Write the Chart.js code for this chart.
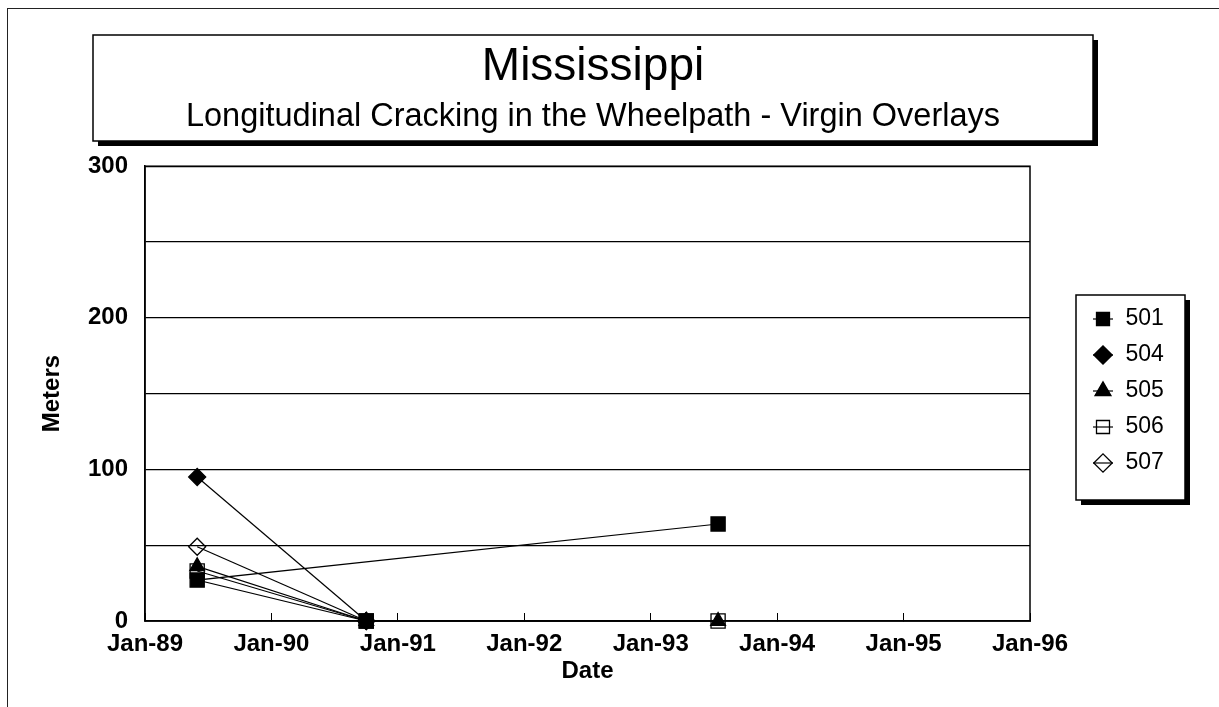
<!DOCTYPE html>
<html>
<head>
<meta charset="utf-8">
<script src="https://cdn.jsdelivr.net/npm/chart.js@4.4.1/dist/chart.umd.min.js"></script>
<style>
html,body{margin:0;padding:0;background:#fff;}
canvas{display:block;}
</style>
</head>
<body>
<canvas id="c" width="1219" height="707"></canvas>
<script>
// ---- chart text ----
const chartTitle = 'Mississippi';
const chartSubtitle = 'Longitudinal Cracking in the Wheelpath - Virgin Overlays';
const xAxisTitle = 'Date';
const yAxisTitle = 'Meters';
const xTickLabels = ['Jan-89','Jan-90','Jan-91','Jan-92','Jan-93','Jan-94','Jan-95','Jan-96'];
const yTickLabels = ['0','100','200','300'];

// ---- series (survey date, meters) in plotting order ----
const dates501 = ['1990-10-01','1989-05-30','1993-07-13'];
const meters501 = [0, 27, 64];
const dates504 = ['1989-05-30','1990-10-01'];
const meters504 = [95, 0];
const dates505 = ['1989-05-30','1990-10-01','1993-07-13'];
const meters505 = [36, 0, 0];
const dates506 = ['1989-05-30','1990-10-01','1993-07-13'];
const meters506 = [33, 0, 0];
const dates507 = ['1989-05-30','1990-10-01'];
const meters507 = [49, 0];

function toYear(s){
  const p = s.split('-').map(Number);
  return p[0] + (p[1]-1)/12 + (p[2]-1)/365;
}
function pts(dates, vals){ return dates.map((d,i)=>({x:toYear(d), y:vals[i]})); }

const FONT = "'Liberation Sans', Arial, Helvetica, sans-serif";
Chart.defaults.font.family = FONT;
Chart.defaults.color = '#000';

function ds(label, data, style, fill, radius){
  return {
    label, data, showLine:true, borderColor:'#000', borderWidth:1.2,
    pointStyle:style, pointRadius:radius, pointHoverRadius:radius,
    pointBackgroundColor: fill, pointBorderColor:'#000', pointBorderWidth:1.3,
    clip:false
  };
}

const decor = {
  id:'decor',
  afterInit(chart){
    const lg = chart.legend;
    const fit = lg.fit;
    lg.fit = function(){ fit.call(this); this.width = 156; };
  },
  afterLayout(chart){
    const lg = chart.legend;
    const dx = 1079 - lg.left;
    lg.left += dx; lg.right += dx;
    const h = lg.height;
    lg.top = 294.5; lg.bottom = lg.top + h;
  },
  beforeDraw(chart){
    const ctx = chart.ctx;
    ctx.save();
    ctx.fillStyle = '#fff';
    ctx.fillRect(0,0,chart.width,chart.height);
    // outer frame
    ctx.strokeStyle = '#222'; ctx.lineWidth = 1;
    ctx.strokeRect(7.5, 8.5, 1400, 900);
    // title box with shadow
    ctx.fillStyle = '#000';
    ctx.fillRect(98, 40, 1000, 106);
    ctx.fillStyle = '#fff';
    ctx.fillRect(93, 35, 1000, 106);
    ctx.strokeStyle = '#000'; ctx.lineWidth = 1.5;
    ctx.strokeRect(93, 35, 1000, 106);
    // legend box with shadow
    ctx.fillStyle = '#000';
    ctx.fillRect(1081, 300, 109, 205);
    ctx.fillStyle = '#fff';
    ctx.fillRect(1076, 295, 109, 205);
    ctx.strokeRect(1076, 295, 109, 205);
    ctx.restore();
  },
  beforeDatasetsDraw(chart){
    const a = chart.chartArea, ctx = chart.ctx;
    ctx.save();
    ctx.strokeStyle = '#000'; ctx.lineWidth = 1.5;
    ctx.strokeRect(a.left, a.top, a.right - a.left, a.bottom - a.top);
    ctx.restore();
  },
  afterDraw(chart){
    const ctx = chart.ctx;
    const boxes = chart.legend.legendHitBoxes || [];
    ctx.save();
    ctx.strokeStyle = '#000'; ctx.lineWidth = 1.2;
    boxes.forEach(h=>{
      const cx = h.left + 11, cy = h.top + 11.5;
      ctx.beginPath(); ctx.moveTo(cx - 10, cy); ctx.lineTo(cx + 10, cy); ctx.stroke();
    });
    ctx.restore();
  }
};

new Chart(document.getElementById('c'), {
  type:'scatter',
  data:{
    datasets:[
      ds('501', pts(dates501, meters501), 'rect', '#000', 10),
      ds('504', pts(dates504, meters504), 'rectRot', '#000', 8.5),
      ds('505', pts(dates505, meters505), 'triangle', '#000', 8.5),
      ds('506', pts(dates506, meters506), 'rect', 'rgba(0,0,0,0)', 10),
      ds('507', pts(dates507, meters507), 'rectRot', 'rgba(0,0,0,0)', 8.5)
    ]
  },
  options:{
    responsive:false, animation:false, devicePixelRatio:1, events:[],
    layout:{ padding:{ top:20, left:0, right:33, bottom:0 } },
    plugins:{
      tooltip:{enabled:false},
      title:{ display:true, text:chartTitle, color:'#000',
        font:{size:46, weight:'normal', family:FONT}, padding:{top:20, bottom:0} },
      subtitle:{ display:true, text:chartSubtitle, color:'#000',
        font:{size:32.5, weight:'normal', family:FONT}, padding:{top:2, bottom:30} },
      legend:{ display:true, position:'right', align:'start',
        labels:{ usePointStyle:true, boxWidth:22, boxHeight:13, padding:13, color:'#000',
          font:{size:23, family:FONT} } }
    },
    scales:{
      x:{
        type:'linear', min:1989, max:1996,
        afterFit(s){ s.height = 86; },
        ticks:{ stepSize:1, autoSkip:false, maxRotation:0, padding:17, color:'#000',
          font:{size:24, weight:'bold', family:FONT},
          callback:(v)=> xTickLabels[Math.round(v-1989)] },
        grid:{ drawOnChartArea:false, drawTicks:true, tickLength:-8, color:'#000', lineWidth:1 },
        border:{ display:true, color:'#000', width:1.5 },
        title:{ display:true, text:xAxisTitle, color:'#000',
          font:{size:24, weight:'bold', family:FONT}, padding:{top:0, bottom:21} }
      },
      y:{
        min:0, max:300,
        afterFit(s){ s.width = 145; },
        ticks:{ stepSize:50, padding:17, color:'#000', autoSkip:false,
          font:{size:24, weight:'bold', family:FONT},
          callback:(v)=> (v % 100 === 0 ? yTickLabels[v/100] : '') },
        grid:{ drawTicks:false, color:'#000', lineWidth:1.3 },
        border:{ display:true, color:'#000', width:1.5 },
        title:{ display:true, text:yAxisTitle, color:'#000',
          font:{size:24, weight:'bold', family:FONT}, padding:{top:38, bottom:0} }
      }
    }
  },
  plugins:[decor]
});
</script>
</body>
</html>
